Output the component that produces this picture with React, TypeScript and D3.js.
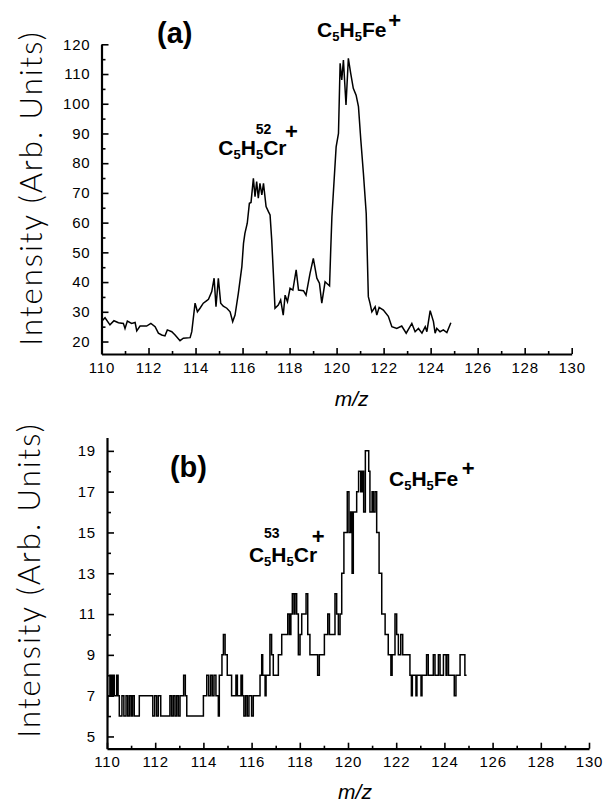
import React, {useEffect, useRef} from 'react';
import * as d3 from "d3";

// panel (a) - continuous trace
const mzA = [110.0, 110.15, 110.36, 110.53, 110.72, 110.93, 111.0, 111.1, 111.28, 111.43, 111.5, 111.64, 111.92, 112.1, 112.28, 112.42, 112.56, 112.7, 112.8, 112.99, 113.13, 113.34, 113.48, 113.77, 113.84, 113.98, 114.08, 114.19, 114.33, 114.45, 114.55, 114.69, 114.79, 114.87, 114.97, 115.07, 115.18, 115.33, 115.47, 115.58, 115.68, 115.82, 115.97, 116.04, 116.1, 116.2, 116.29, 116.36, 116.46, 116.53, 116.6, 116.67, 116.74, 116.82, 116.89, 117.0, 117.1, 117.17, 117.24, 117.31, 117.38, 117.52, 117.62, 117.73, 117.81, 117.91, 118.02, 118.14, 118.28, 118.38, 118.59, 118.7, 118.87, 119.01, 119.16, 119.27, 119.37, 119.51, 119.7, 119.75, 119.8, 119.98, 120.08, 120.15, 120.22, 120.29, 120.4, 120.5, 120.6, 120.71, 120.83, 120.93, 121.03, 121.14, 121.26, 121.35, 121.42, 121.5, 121.64, 121.71, 121.81, 121.99, 122.2, 122.35, 122.56, 122.77, 122.96, 123.2, 123.34, 123.48, 123.63, 123.77, 123.84, 123.98, 124.12, 124.19, 124.26, 124.4, 124.54, 124.69, 124.86]
const intensityA = [26.7, 28.0, 25.6, 27.0, 26.3, 26.1, 24.4, 26.9, 26.1, 26.4, 23.6, 25.2, 25.2, 26.1, 25.0, 22.8, 22.2, 21.9, 23.9, 23.3, 22.2, 20.3, 21.1, 21.3, 23.3, 32.9, 30.0, 31.2, 32.9, 33.6, 34.2, 36.8, 41.3, 31.7, 41.3, 32.9, 31.9, 31.2, 30.0, 26.7, 28.9, 36.2, 45.2, 53.0, 56.4, 59.8, 66.5, 66.8, 74.9, 68.7, 73.8, 68.2, 73.2, 69.3, 73.2, 65.4, 63.7, 62.6, 54.2, 42.9, 31.2, 32.3, 34.0, 28.9, 35.6, 33.4, 37.9, 37.3, 44.1, 37.3, 37.1, 35.6, 42.9, 48.0, 41.3, 39.6, 32.9, 40.1, 38.7, 50.8, 62.0, 85.5, 90.0, 113.6, 108.0, 114.7, 99.6, 115.3, 110.2, 105.2, 102.9, 99.0, 87.8, 76.6, 63.1, 35.1, 32.9, 30.0, 31.7, 28.9, 31.5, 30.6, 28.5, 25.0, 24.4, 25.2, 22.8, 26.1, 23.3, 24.4, 22.8, 25.0, 23.3, 30.4, 26.7, 22.8, 24.4, 23.3, 23.9, 23.0, 26.3]

// panel (b) - counts, drawn as steps
const mzB = [110.0, 110.03, 110.12, 110.18, 110.24, 110.3, 110.4, 110.46, 110.51, 110.62, 110.7, 110.79, 110.86, 110.93, 111.0, 111.06, 111.13, 111.34, 111.9, 111.98, 112.06, 112.13, 112.23, 112.61, 112.68, 112.75, 112.82, 112.89, 112.96, 113.03, 113.18, 113.25, 113.31, 114.0, 114.14, 114.22, 114.3, 114.37, 114.44, 114.52, 114.62, 114.66, 114.77, 114.83, 114.9, 114.99, 115.17, 115.35, 115.41, 115.56, 115.62, 115.68, 115.75, 115.82, 115.89, 116.0, 116.07, 116.35, 116.42, 116.46, 116.56, 116.6, 116.76, 116.83, 116.9, 117.11, 117.25, 117.5, 117.57, 117.63, 117.69, 117.76, 117.8, 117.87, 117.94, 118.01, 118.08, 118.26, 118.33, 118.42, 118.74, 118.81, 119.02, 119.16, 119.23, 119.46, 119.53, 119.6, 119.67, 119.74, 119.83, 119.97, 120.04, 120.11, 120.17, 120.22, 120.36, 120.44, 120.53, 120.59, 120.65, 120.72, 120.86, 120.91, 121.0, 121.05, 121.12, 121.19, 121.29, 121.4, 121.54, 121.67, 121.78, 121.83, 121.95, 122.02, 122.09, 122.19, 122.27, 122.57, 122.63, 122.67, 122.82, 122.86, 123.03, 123.07, 123.26, 123.33, 123.54, 123.61, 123.75, 123.82, 123.96, 124.07, 124.1, 124.17, 124.41, 124.48, 124.65, 124.85, 124.92]
const countsB = [6, 7, 8, 7, 8, 7, 8, 7, 6, 7, 6, 7, 6, 7, 6, 7, 6, 7, 6, 7, 6, 7, 6, 7, 6, 7, 6, 7, 6, 7, 8, 7, 6, 7, 8, 7, 8, 7, 8, 7, 6, 8, 9, 10, 9, 8, 7, 8, 7, 8, 7, 6, 7, 6, 7, 6, 7, 8, 9, 8, 7, 8, 10, 9, 8, 9, 10, 11, 10, 11, 12, 11, 12, 11, 9, 10, 11, 12, 10, 9, 8, 9, 10, 11, 10, 12, 11, 10, 11, 13, 15, 17, 15, 16, 13, 16, 17, 18, 17, 18, 16, 19, 18, 16, 17, 16, 17, 15, 13, 11, 10, 9, 8, 9, 11, 10, 9, 10, 9, 8, 7, 8, 7, 8, 7, 8, 9, 8, 9, 8, 9, 8, 9, 8, 9, 8, 7, 8, 9, 8, 8]

const xTicks = [110, 112, 114, 116, 118, 120, 122, 124, 126, 128, 130]
const xMinor = [111, 113, 115, 117, 119, 121, 123, 125, 127, 129]
const yTicksA = [20, 30, 40, 50, 60, 70, 80, 90, 100, 110, 120]
const yMinorA = [25, 35, 45, 55, 65, 75, 85, 95, 105, 115]
const yTicksB = [5, 7, 9, 11, 13, 15, 17, 19]
const yMinorB = [6, 8, 10, 12, 14, 16, 18]

const yTitle = "Intensity (Arb. Units)"

const width = 606
const height = 806

const drawPanel = (svg, cfg) => {
    const {x, y, xs, ys, step, yTicks, yMinor, letter, letterPos, feLabel, crLabel, iso, titleY, mzY} = cfg
    const g = svg.append("g")

    // axes: major ticks inward, minor ticks shorter
    const xAxis = d3.axisBottom(x).tickValues(xTicks).tickSize(-6).tickSizeOuter(0).tickPadding(8)
    const xAxisMinor = d3.axisBottom(x).tickValues(xMinor).tickSize(-3).tickFormat(() => "")
    const yAxis = d3.axisLeft(y).tickValues(yTicks).tickSize(-7).tickSizeOuter(0).tickPadding(11)
    const yAxisMinor = d3.axisLeft(y).tickValues(yMinor).tickSize(-4).tickFormat(() => "")

    const y0 = y.range()[0]
    const x0 = x.range()[0]
    g.append("g").attr("transform", `translate(0,${y0})`).call(xAxis)
    g.append("g").attr("transform", `translate(0,${y0})`).call(xAxisMinor).select(".domain").remove()
    g.append("g").attr("transform", `translate(${x0},0)`).call(yAxis)
    g.append("g").attr("transform", `translate(${x0},0)`).call(yAxisMinor).select(".domain").remove()

    g.selectAll(".domain").attr("stroke", "#000").attr("stroke-width", 2.2)
    g.selectAll(".tick line").attr("stroke", "#000").attr("stroke-width", 1.6)
    g.selectAll(".tick text")
        .attr("fill", "#000")
        .style("font-family", "'Liberation Sans', Arial, sans-serif")
        .style("font-size", "15px")
        .style("letter-spacing", "0.8px")

    const line = d3.line()
        .x(d => x(d[0]))
        .y(d => y(d[1]))
        .curve(step ? d3.curveStepAfter : d3.curveLinear)

    g.append("path")
        .datum(xs.map((v, i) => [v, ys[i]]))
        .attr("d", line)
        .attr("fill", "none")
        .attr("stroke", "#000")
        .attr("stroke-width", 1.5)
        .attr("stroke-linejoin", "miter")

    // axis titles
    const xMid = (x.range()[0] + x.range()[1]) / 2
    g.append("text")
        .attr("x", xMid + cfg.mzDx).attr("y", mzY)
        .attr("text-anchor", "middle")
        .style("font-family", "'Liberation Sans', Arial, sans-serif")
        .style("font-style", "italic")
        .style("font-size", "21px")
        .text("m/z")

    g.append("text")
        .attr("transform", `translate(${cfg.titleX},${titleY}) rotate(-90)`)
        .attr("text-anchor", "middle")
        .style("font-family", "Lato, 'Open Sans', sans-serif")
        .style("font-weight", 300)
        .style("font-size", "31px")
        .style("letter-spacing", "2px")
        .text(yTitle)

    const labelFont = "'Liberation Sans', Arial, sans-serif"

    g.append("text")
        .attr("x", x(letterPos[0])).attr("y", y(letterPos[1]))
        .style("font-family", labelFont)
        .style("font-weight", "bold")
        .style("font-size", "29px")
        .text(letter)

    // C5H5Fe+ label
    const fe = g.append("text")
        .attr("x", x(feLabel[0])).attr("y", y(feLabel[1]))
        .style("font-family", labelFont)
        .style("font-weight", "bold")
        .style("font-size", "21px")
    fe.append("tspan").text("C")
    fe.append("tspan").attr("dy", 4).style("font-size", "13px").text("5")
    fe.append("tspan").attr("dy", -4).text("H")
    fe.append("tspan").attr("dy", 4).style("font-size", "13px").text("5")
    fe.append("tspan").attr("dy", -4).text("Fe")
    g.append("text")
        .attr("x", x(feLabel[2])).attr("y", y(feLabel[3]))
        .style("font-family", labelFont).style("font-weight", "bold").style("font-size", "22px")
        .text("+")

    // C5H5Cr+ label with isotope number
    const cr = g.append("text")
        .attr("x", x(crLabel[0])).attr("y", y(crLabel[1]))
        .style("font-family", labelFont)
        .style("font-weight", "bold")
        .style("font-size", "21px")
    cr.append("tspan").text("C")
    cr.append("tspan").attr("dy", 4).style("font-size", "13px").text("5")
    cr.append("tspan").attr("dy", -4).text("H")
    cr.append("tspan").attr("dy", 4).style("font-size", "13px").text("5")
    cr.append("tspan").attr("dy", -4).text("Cr")
    g.append("text")
        .attr("x", x(crLabel[2])).attr("y", y(crLabel[3]))
        .style("font-family", labelFont).style("font-weight", "bold").style("font-size", "14px")
        .text(iso)
    g.append("text")
        .attr("x", x(crLabel[4])).attr("y", y(crLabel[5]))
        .style("font-family", labelFont).style("font-weight", "bold").style("font-size", "22px")
        .text("+")
}

const App = () => {
    const svgRef = useRef(null)

    useEffect(() => {
        const svg = d3.select(svgRef.current)
        svg.selectAll("*").remove()

        const xA = d3.scaleLinear().domain([110, 130]).range([101.5, 571.7])
        const yA = d3.scaleLinear().domain([15.8, 120]).range([354, 44.3])
        drawPanel(svg, {
            x: xA, y: yA, xs: mzA, ys: intensityA, step: false,
            yTicks: yTicksA, yMinor: yMinorA,
            letter: "(a)", letterPos: [112.36, 120.6],
            feLabel: [119.17, 122.4, 122.2, 125.6],
            crLabel: [114.97, 82.8, 116.56, 89.8, 117.81, 88.1],
            iso: "52",
            titleX: 42, titleY: 188, mzY: 406, mzDx: 15
        })

        const xB = d3.scaleLinear().domain([110, 130]).range([107, 589])
        const yB = d3.scaleLinear().domain([4.4, 19.65]).range([748.7, 437.6])
        drawPanel(svg, {
            x: xB, y: yB, xs: mzB, ys: countsB, step: true,
            yTicks: yTicksB, yMinor: yMinorB,
            letter: "(b)", letterPos: [112.61, 17.72],
            feLabel: [121.7, 17.28, 124.72, 17.77],
            crLabel: [115.89, 13.55, 116.51, 14.75, 118.5, 14.43],
            iso: "53",
            titleX: 40, titleY: 580, mzY: 799, mzDx: 7
        })
    }, [])

    return (
        <svg ref={svgRef} width={width} height={height}
             style={{position: "absolute", left: 0, top: 0, background: "#fff"}}>
        </svg>
    )
}

export default App
